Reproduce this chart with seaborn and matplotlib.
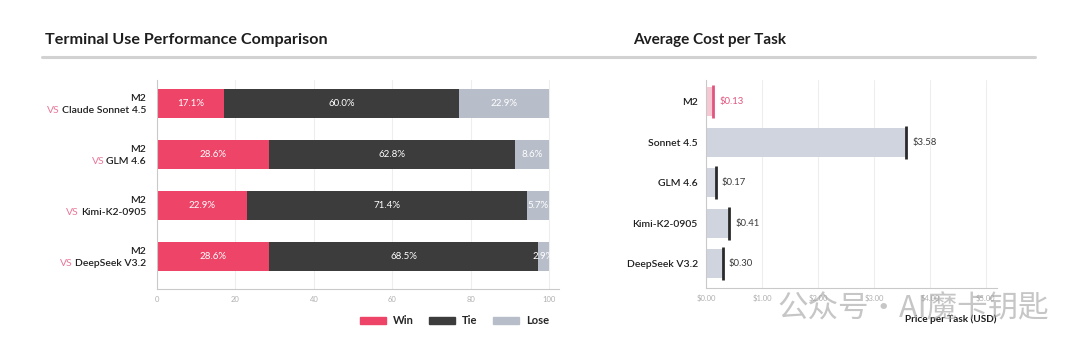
import numpy as np
import pandas as pd
import seaborn as sns
import matplotlib.pyplot as plt
from matplotlib.lines import Line2D
from matplotlib.patches import Patch

# Terminal use: M2 vs each model (percent of tasks)
opponents = ["Claude Sonnet 4.5", "GLM 4.6", "Kimi-K2-0905", "DeepSeek V3.2"]
win = [17.1, 28.6, 22.9, 28.6]
tie = [60.0, 62.8, 71.4, 68.5]
lose = [22.9, 8.6, 5.7, 2.9]
pct_ticks = [0, 20, 40, 60, 80, 100]

# Average cost per task (USD)
cost_models = ["M2", "Sonnet 4.5", "GLM 4.6", "Kimi-K2-0905", "DeepSeek V3.2"]
cost_usd = [0.13, 3.58, 0.17, 0.41, 0.30]
cost_ticks = [0, 1, 2, 3, 4, 5]

WIN = "#ee4468"
TIE = "#3c3c3c"
LOSE = "#b8bec9"
PINK_LIGHT = "#f6c8d4"
PINK_LINE = "#e2557f"
BAR_GRAY = "#cfd4de"
DARK = "#1e1e1e"
TICK_GRAY = "#b0b0b0"
SPINE = "#c9c9c9"

sns.set_theme(style="white")
plt.rcParams["font.family"] = ["Lato", "DejaVu Sans"]

fig = plt.figure(figsize=(10.8, 3.54), dpi=100)
ax1 = fig.add_axes([157 / 1080, 1 - 289 / 354, 402 / 1080, 209 / 354])
ax2 = fig.add_axes([706 / 1080, 1 - 288 / 354, 291 / 1080, 208 / 354])

# ---- left: stacked win / tie / lose ----
df = pd.DataFrame({"opp": opponents, "win": win, "tie": tie, "lose": lose})
df["win_tie"] = df["win"] + df["tie"]
df["total"] = df["win_tie"] + df["lose"]

for col, c in [("total", LOSE), ("win_tie", TIE), ("win", WIN)]:
    sns.barplot(data=df, x=col, y="opp", orient="h", color=c, width=0.57,
                saturation=1, edgecolor="none", ax=ax1, zorder=2)

for i, row in df.iterrows():
    lefts = [0, row["win"], row["win_tie"]]
    for left, w in zip(lefts, [row["win"], row["tie"], row["lose"]]):
        ax1.text(left + w / 2, i, f"{w:.1f}%", ha="center", va="center",
                 color="white", fontsize=7, zorder=3)
    ax1.annotate("M2", xy=(0, i), xycoords=("axes fraction", "data"),
                 xytext=(-8, 3.3), textcoords="offset points",
                 ha="right", va="center", fontsize=7.5, fontweight="semibold", color=DARK)
    name = ax1.annotate(row["opp"], xy=(0, i), xycoords=("axes fraction", "data"),
                        xytext=(-8, -5.4), textcoords="offset points",
                        ha="right", va="center", fontsize=7.5, fontweight="semibold", color=DARK)
    ax1.annotate("VS", xy=(0, 0.5), xycoords=name, xytext=(-1.3, 0),
                 textcoords="offset points", ha="right", va="center",
                 fontsize=7.5, color="#e8799a")

ax1.set_xlim(0, 102.5)
ax1.set_ylim(3.64, -0.46)
ax1.set_xticks(pct_ticks)
ax1.set_xticklabels([str(t) for t in pct_ticks])
ax1.set_yticks([])
ax1.set_xlabel("")
ax1.set_ylabel("")
ax1.tick_params(axis="x", length=0, pad=5, labelsize=5.5, labelcolor=TICK_GRAY)
ax1.grid(axis="x", color="#eeeeee", lw=0.8, zorder=0)
ax1.set_axisbelow(True)

handles = [Patch(color=WIN), Patch(color=TIE), Patch(color=LOSE)]
ax1.legend(handles, ["Win", "Tie", "Lose"], loc="center right",
           bbox_to_anchor=(559 / 1080, 1 - 321 / 354), bbox_transform=fig.transFigure,
           ncol=3, frameon=False, handlelength=2.4, handleheight=0.5,
           columnspacing=1.35, handletextpad=0.6,
           prop={"size": 8, "weight": "bold", "family": ["Lato", "DejaVu Sans"]})

# ---- right: cost per task ----
bar_colors = [PINK_LIGHT] + [BAR_GRAY] * 4
line_colors = [PINK_LINE] + ["#2a2a2a"] * 4
sns.barplot(x=cost_usd, y=cost_models, hue=cost_models, palette=bar_colors,
            legend=False, orient="h", width=0.71, saturation=1, edgecolor="none",
            ax=ax2, zorder=2)
pos = np.arange(len(cost_models))
ax2.vlines(cost_usd, pos - 0.41, pos + 0.41, colors=line_colors, lw=2, zorder=3)
for i, v in enumerate(cost_usd):
    ax2.annotate(f"${v:.2f}", xy=(v, i), xytext=(4.5, 0), textcoords="offset points",
                 ha="left", va="center", fontsize=6.8,
                 color=PINK_LINE if i == 0 else "#3a3a3a")

ax2.set_xlim(0, 5.2)
ax2.set_ylim(4.6, -0.54)
ax2.set_xticks(cost_ticks)
ax2.set_xticklabels([f"${t:.2f}" for t in cost_ticks])
ax2.set_ylabel("")
ax2.set_xlabel("Price per Task (USD)", loc="right", fontsize=7.2, fontweight="bold",
               color=DARK, labelpad=9)
ax2.tick_params(axis="x", length=0, pad=5, labelsize=5.5, labelcolor=TICK_GRAY)
ax2.tick_params(axis="y", length=3, width=0.6, color=SPINE, pad=3, labelsize=7.5,
                labelcolor=DARK)
for lab in ax2.get_yticklabels():
    lab.set_fontweight("semibold")
ax2.grid(axis="x", color="#eeeeee", lw=0.8, zorder=0)
ax2.set_axisbelow(True)

for ax in (ax1, ax2):
    sns.despine(ax=ax, top=True, right=True)
    for s in ("left", "bottom"):
        ax.spines[s].set_color(SPINE)
        ax.spines[s].set_linewidth(0.8)

# titles and rule
fig.text(45 / 1080, 1 - 40 / 354, "Terminal Use Performance Comparison", fontsize=11.6,
         fontweight="bold", color=DARK, va="center")
fig.text(633 / 1080, 1 - 40 / 354, "Average Cost per Task", fontsize=11,
         fontweight="bold", color=DARK, va="center")
fig.add_artist(Line2D([42 / 1080, 1035 / 1080], [1 - 57 / 354, 1 - 57 / 354],
                      transform=fig.transFigure, color="#d2d2d2", lw=2.2))

# watermark
fig.text(777 / 1080, 1 - 309 / 354, "公众号·AI魔卡钥匙", fontsize=22, color="#a0a0a0",
         alpha=0.6, va="center", family=["Noto Sans CJK SC", "DejaVu Sans"])

fig.savefig("out.png", dpi=100, facecolor="white")
